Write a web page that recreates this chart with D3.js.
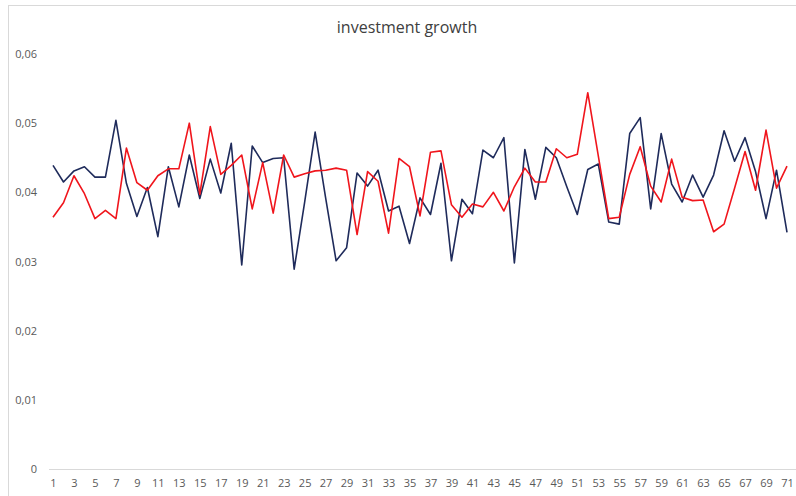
<!DOCTYPE html>
<html>
<head>
<meta charset="utf-8">
<style>
	body { margin: 0; background: #fff; }
	svg { display: block; font-family: 'Open Sans', sans-serif; }
</style>
<script src="https://cdn.jsdelivr.net/npm/d3@7"></script>
</head>
<body>
<svg id="chart" width="796" height="496"></svg>
<script>
	// values
	var periods = d3.range(1, 72);

	var seriesNavy = [
		0.0439, 0.0415, 0.0431, 0.0437, 0.0422, 0.0422, 0.0504, 0.0413, 0.0365, 0.0407,
		0.0336, 0.0437, 0.0379, 0.0454, 0.0391, 0.0448, 0.0399, 0.0471, 0.0295, 0.0467,
		0.0443, 0.0449, 0.0450, 0.0289, 0.0386, 0.0487, 0.0392, 0.0301, 0.0320, 0.0428,
		0.0409, 0.0432, 0.0373, 0.0380, 0.0326, 0.0392, 0.0368, 0.0442, 0.0301, 0.0390,
		0.0369, 0.0461, 0.0450, 0.0479, 0.0298, 0.0462, 0.0390, 0.0465, 0.0450, 0.0408,
		0.0368, 0.0433, 0.0441, 0.0357, 0.0354, 0.0485, 0.0508, 0.0376, 0.0485, 0.0412,
		0.0386, 0.0425, 0.0393, 0.0425, 0.0489, 0.0445, 0.0479, 0.0430, 0.0362, 0.0432,
		0.0342
	];

	var seriesRed = [
		0.0364, 0.0385, 0.0424, 0.0398, 0.0362, 0.0374, 0.0362, 0.0464, 0.0414, 0.0403,
		0.0424, 0.0434, 0.0434, 0.0500, 0.0397, 0.0495, 0.0426, 0.0439, 0.0454, 0.0376,
		0.0443, 0.0370, 0.0454, 0.0422, 0.0427, 0.0431, 0.0432, 0.0435, 0.0432, 0.0339,
		0.0430, 0.0416, 0.0341, 0.0449, 0.0437, 0.0366, 0.0458, 0.0460, 0.0382, 0.0364,
		0.0383, 0.0379, 0.0400, 0.0373, 0.0408, 0.0435, 0.0415, 0.0415, 0.0463, 0.0450,
		0.0455, 0.0544, 0.0453, 0.0362, 0.0364, 0.0426, 0.0466, 0.0409, 0.0386, 0.0448,
		0.0393, 0.0388, 0.0389, 0.0343, 0.0354, 0.0406, 0.0459, 0.0403, 0.0490, 0.0406,
		0.0438
	];

	var yTicks = [0, 0.01, 0.02, 0.03, 0.04, 0.05, 0.06];
	var xTickLabels = periods.filter(function(p){ return p % 2 === 1; });

	var svg = d3.select('#chart');

	// chart border (right and bottom run off the picture)
	svg.append('rect')
		.attr('x', 8.5).attr('y', 5.5)
		.attr('width', 800).attr('height', 500)
		.attr('fill', 'none')
		.attr('stroke', '#d9d9d9');

	var x = d3.scaleLinear().domain([1, 71]).range([53, 787]);
	var y = d3.scaleLinear().domain([0, 0.06]).range([469, 54]);

	svg.append('text')
		.attr('x', 407).attr('y', 33)
		.attr('text-anchor', 'middle')
		.attr('font-size', 16)
		.attr('fill', '#404040')
		.text('investment growth');

	var fmt = function(d){ return d === 0 ? '0' : d3.format('.2f')(d).replace('.', ','); };

	var yAxis = svg.append('g')
		.attr('transform', 'translate(37,0)')
		.call(d3.axisLeft(y).tickValues(yTicks).tickFormat(fmt).tickSize(0).tickPadding(0));
	yAxis.select('.domain').remove();
	yAxis.selectAll('text').attr('font-size', 11).attr('fill', '#595959').attr('font-family', "'Open Sans', sans-serif");

	svg.append('line')
		.attr('x1', 49).attr('x2', 796)
		.attr('y1', 469.5).attr('y2', 469.5)
		.attr('stroke', '#d9d9d9').attr('stroke-width', 1);

	var xAxis = svg.append('g')
		.attr('transform', 'translate(0,479)')
		.call(d3.axisBottom(x).tickValues(xTickLabels).tickFormat(d3.format('d')).tickSize(0).tickPadding(0));
	xAxis.select('.domain').remove();
	xAxis.selectAll('text').attr('font-size', 11).attr('fill', '#595959').attr('font-family', "'Open Sans', sans-serif");

	var line = d3.line()
		.x(function(d, i){ return x(periods[i]); })
		.y(function(d){ return y(d); });

	svg.append('path')
		.datum(seriesNavy)
		.attr('d', line)
		.attr('fill', 'none')
		.attr('stroke', '#1f2b5b')
		.attr('stroke-width', 1.6)
		.attr('stroke-linejoin', 'round');

	svg.append('path')
		.datum(seriesRed)
		.attr('d', line)
		.attr('fill', 'none')
		.attr('stroke', '#f0151c')
		.attr('stroke-width', 1.6)
		.attr('stroke-linejoin', 'round');
</script>
</body>
</html>
